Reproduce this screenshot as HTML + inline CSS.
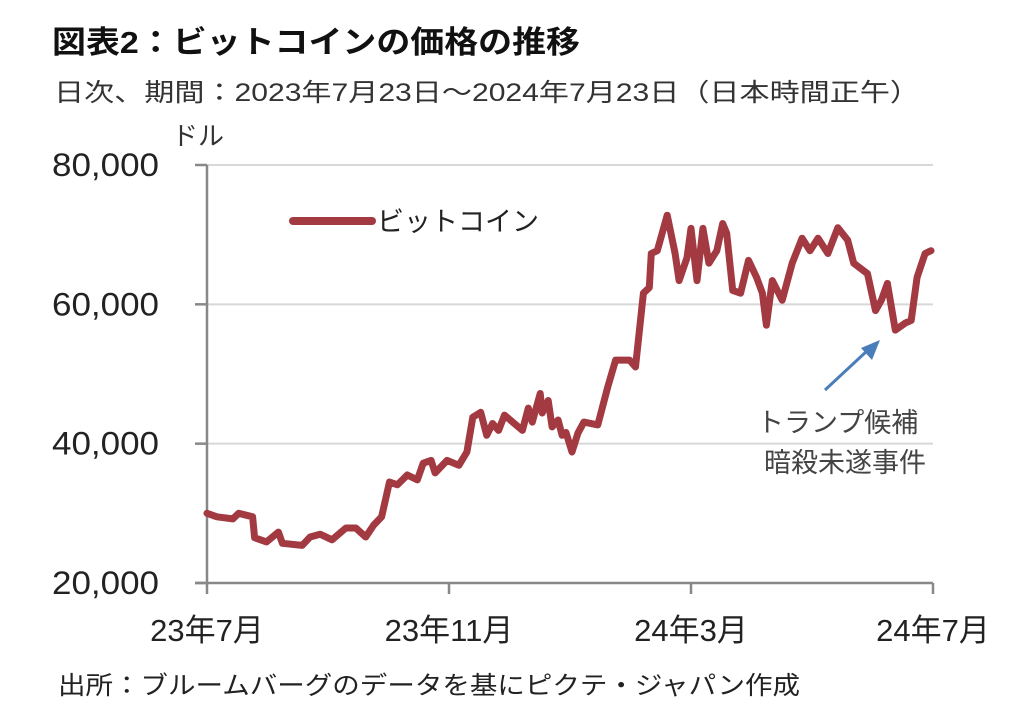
<!DOCTYPE html>
<html><head><meta charset="utf-8"><style>
body{margin:0;background:#fff;width:1012px;height:706px;overflow:hidden;font-family:"Liberation Sans","Noto Sans CJK JP",sans-serif;color:#222}
svg{position:absolute;left:0;top:0}
</style></head><body>
<svg width="1012" height="706">
<text x="52" y="53" font-size="31" font-weight="bold" fill="#111" textLength="528" lengthAdjust="spacingAndGlyphs">図表2：ビットコインの価格の推移</text>
<text x="54" y="101" font-size="25" fill="#333" textLength="866" lengthAdjust="spacingAndGlyphs">日次、期間：2023年7月23日～2024年7月23日（日本時間正午）</text>
<text x="172" y="145" font-size="26" fill="#333">ドル</text>
<g id="grid"></g>
<g id="axes"></g>
<g id="series"></g>
<line x1="293" y1="221" x2="372" y2="221" stroke="#a33a42" stroke-width="8" stroke-linecap="round"/>
<text x="377" y="231" font-size="27" fill="#222">ビットコイン</text>
<line x1="825" y1="390" x2="868" y2="350" stroke="#4a7ebb" stroke-width="3"/>
<polygon points="880,340 872,360 861,348" fill="#4a7ebb"/>
<text x="757" y="432" font-size="27" fill="#444">トランプ候補</text>
<text x="764" y="472" font-size="27" fill="#444">暗殺未遂事件</text>
<text x="58" y="694" font-size="25" fill="#222" textLength="742" lengthAdjust="spacingAndGlyphs">出所：ブルームバーグのデータを基にピクテ・ジャパン作成</text>
</svg>
<script>
const days=[0,5,13,16,23,24,30,36,38,48,52,57,63,70,75,80,84,88,92,96,101,106,109,113,115,121,127,131,134,138,141,144,147,150,159,162,164,168,169,172,174,177,179,181,184,187,190,197,202,206,213,216,220,223,224,227,232,236,238,242,244,247,250,253,257,260,262,265,269,273,277,280,282,285,290,295,300,304,308,313,318,323,326,333,337,340,343,347,352,355,358,362,365];
const prices=[30000,29500,29200,30000,29500,26500,25900,27300,25700,25400,26600,27000,26200,27900,27900,26600,28300,29500,34500,34100,35500,34800,37200,37600,35800,37600,36900,38800,43800,44500,41200,42900,41900,44100,41900,45100,43100,47200,44400,46200,42400,43400,41200,41600,38800,41500,43100,42700,48100,52000,52000,51000,61600,62400,67300,67700,72800,67300,63400,66700,70900,63400,70900,65900,67700,71600,70200,62000,61600,66300,63900,61600,57000,63400,60600,65900,69500,67700,69500,67300,71000,69200,65900,64400,59100,60600,63000,56300,57300,57700,63900,67300,67700];
const yTicks=[20000,40000,60000,80000];
const yTickLabels=["20,000","40,000","60,000","80,000"];
const xTickDays=[0,122,244,366];
const xTickLabels=["23年7月","23年11月","24年3月","24年7月"];
const NS="http://www.w3.org/2000/svg";
const X0=207,X1=933,Y0=583,Y1=165;
function xs(d){return X0+d/366*(X1-X0);}
function ys(v){return Y0-(v-20000)/60000*(Y0-Y1);}
function mk(t,a,p){const e=document.createElementNS(NS,t);for(const k in a)e.setAttribute(k,a[k]);p.appendChild(e);return e;}
const grid=document.getElementById('grid'),axes=document.getElementById('axes'),series=document.getElementById('series');
yTicks.forEach((v,i)=>{
 if(v>20000){const g=mk('line',{x1:X0,x2:X1,y1:ys(v),y2:ys(v),stroke:'#d8d8d8','stroke-width':2},grid);
 
 }
 const t=mk('line',{x1:X0-12,x2:X0,y1:ys(v),y2:ys(v),stroke:'#888','stroke-width':2.5},axes);
 
 
 const l=mk('text',{x:52,y:ys(v)+11,'font-size':32,fill:'#222',textLength:107,lengthAdjust:'spacingAndGlyphs'},axes);l.textContent=yTickLabels[i];
 
 
});
const ya=mk('line',{x1:X0,x2:X0,y1:Y1,y2:Y0,stroke:'#888','stroke-width':2.5},axes);


const xa=mk('line',{x1:X0-12,x2:X1,y1:Y0,y2:Y0,stroke:'#888','stroke-width':2.5},axes);


xTickDays.forEach((d,i)=>{
 const t=mk('line',{x1:xs(d),x2:xs(d),y1:Y0,y2:Y0+11,stroke:'#888','stroke-width':2.5},axes);
 
 
 const l=mk('text',{x:xs(d),y:641,'text-anchor':'middle','font-size':31,fill:'#222'},axes);l.textContent=xTickLabels[i];
 
 
});
const pts=days.map((d,i)=>xs(d).toFixed(1)+','+ys(prices[i]).toFixed(1)).join(' ');
const pl=mk('polyline',{points:pts,fill:'none',stroke:'#a33a42','stroke-width':7,'stroke-linejoin':'round','stroke-linecap':'round'},series);


</script>
</body></html>
